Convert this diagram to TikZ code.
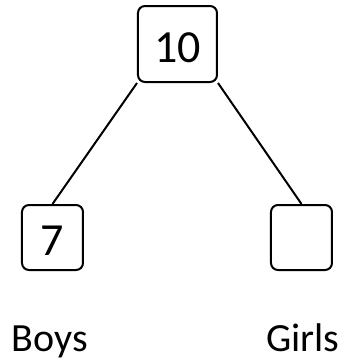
\documentclass[tikz,border=0pt]{standalone}
\usepackage{fontspec}
\setmainfont{Carlito}
\begin{document}
\begin{tikzpicture}[x=1pt,y=1pt,
    numbox/.style ={rectangle, draw, rounded corners=7pt, line width=2pt, inner sep=0pt,
      text height=36pt, text depth=0pt, font=\fontsize{46}{46}\selectfont},
    grouplabel/.style ={anchor=base, inner sep=0pt, font=\fontsize{40}{40}\selectfont}]
   \useasboundingbox (0,0) rectangle (354,360);
   \node[numbox,minimum width=79pt,minimum height=76pt] (total) at (177.5,316)  {10};
   \node[numbox,minimum width=61pt,minimum height=65pt] (boys)  at (52.5,122.5)  {7};
   \node[numbox,minimum width=61pt,minimum height=65pt] (girls) at (301.5,122.5)  {};
   \node[grouplabel] (boyslabel)  at (50,9)  {Boys};
   \node[grouplabel] (girlslabel) at (303,9)  {Girls};

   \draw[line width=2pt] (total.south west) to (boys.north);
   \draw[line width=2pt] (total.south east) to (girls.north);
 \end{tikzpicture}
\end{document}
